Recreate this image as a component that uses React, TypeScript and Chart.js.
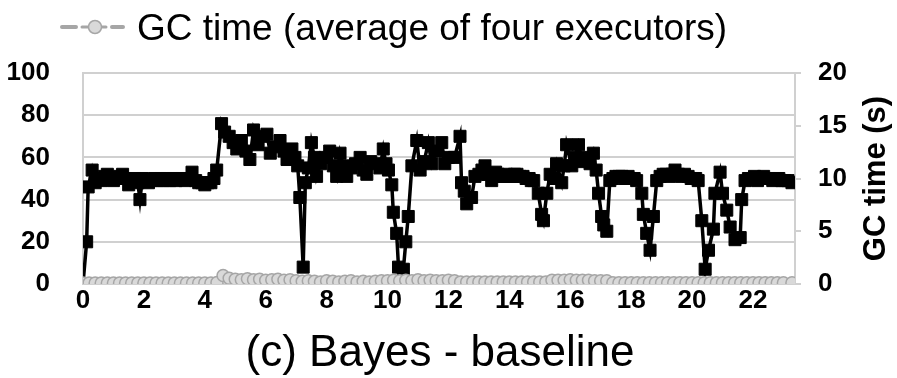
import React, { useEffect, useRef } from "react";
import { Chart, registerables } from "chart.js";

Chart.register(...registerables);

// ---- Data ----
// Black series (left axis, %), time in hours
const cpuHours = [
  0.0, 0.12, 0.17, 0.3,
  0.4, 0.5, 0.6, 0.7, 0.8, 0.9, 1.0, 1.1, 1.2, 1.3, 1.4, 1.5, 1.6, 1.7, 1.8, 1.87, 1.95,
  2.05, 2.15, 2.25, 2.35, 2.45, 2.55, 2.65, 2.75, 2.85, 2.95, 3.05, 3.15, 3.25, 3.35, 3.45, 3.58,
  3.7, 3.8, 3.9, 4.0, 4.1, 4.2, 4.3,
  4.39, 4.55, 4.65, 4.8, 4.93, 5.05, 5.2, 5.35, 5.48, 5.6, 5.75, 5.9,
  6.04, 6.15, 6.3, 6.47, 6.6, 6.7, 6.86, 6.96, 7.05, 7.12, 7.23, 7.3, 7.4, 7.5, 7.6, 7.67, 7.8, 7.95, 8.1, 8.22,
  8.33, 8.44, 8.55, 8.66, 8.8, 8.95, 9.1, 9.2, 9.32, 9.45, 9.6, 9.75, 9.86, 9.95, 10.03, 10.14, 10.19, 10.3, 10.36, 10.52,
  10.6, 10.68, 10.8, 10.96, 11.07, 11.2, 11.34, 11.45, 11.6, 11.78, 11.88, 12.0, 12.2, 12.38, 12.43, 12.52, 12.6, 12.76, 12.87,
  13.0, 13.1, 13.2, 13.3, 13.42, 13.55, 13.63, 13.72, 13.8, 13.9, 14.0, 14.08, 14.17, 14.25, 14.35, 14.45, 14.55, 14.65, 14.72, 14.8,
  14.95, 15.06, 15.12, 15.23, 15.34, 15.45, 15.55, 15.72,
  15.8, 15.88, 16.05, 16.15, 16.27, 16.4, 16.55, 16.65, 16.76, 16.85, 16.93, 17.03, 17.1, 17.2,
  17.3, 17.4, 17.5, 17.6, 17.7, 17.8, 17.9, 18.0, 18.1, 18.18,
  18.35, 18.4, 18.51, 18.62, 18.73,
  18.84, 18.95, 19.05, 19.15, 19.25, 19.35, 19.44, 19.55, 19.65, 19.75, 19.87, 19.97, 20.05, 20.12, 20.2,
  20.32, 20.43, 20.54, 20.7, 20.75, 20.92, 21.0, 21.14, 21.25, 21.41, 21.58, 21.63,
  21.74, 21.85, 21.95, 22.05, 22.15, 22.25, 22.35, 22.45, 22.55, 22.65, 22.75, 22.85, 22.95, 23.05, 23.15, 23.28,
];
const cpuPercent = [
  0, 20, 46, 54,
  48, 50, 49, 51, 52, 50, 49, 50, 51, 52, 50, 47, 49, 50, 48, 40, 50,
  49, 48, 49, 50, 49, 50, 49, 50, 49, 50, 49, 50, 50, 49, 50, 53,
  49, 48, 48, 47, 48, 48, 50,
  54, 76, 72, 70, 67, 64, 68, 63, 59, 73, 66, 70,
  71, 62, 65, 68, 63, 59, 64, 60, 56, 41, 8, 48, 55, 67, 60, 51, 57, 60, 63, 56,
  51, 62, 56, 51, 55, 57, 60, 54, 52, 58, 57, 55, 64, 57, 54, 47, 34, 24, 8, 7,
  20, 32, 56, 68, 54, 58, 67, 57, 63, 67, 57, 60, 60, 70, 48, 44, 38, 41, 51,
  52, 54, 56, 52, 49, 53, 52, 51, 51, 52, 51, 51, 52, 52, 51, 51, 50, 50, 49, 49,
  43, 33, 30, 43, 52, 50, 57, 48,
  56, 66, 56, 60, 66, 58, 60, 57, 62, 54, 43, 32, 28, 25,
  49, 50, 51, 51, 51, 50, 51, 50, 50, 49,
  43, 33, 24, 16, 32,
  49, 51, 52, 52, 51, 52, 54, 52, 51, 52, 51, 50, 50, 50, 49,
  30, 7, 16, 26, 43, 53, 43, 35, 27, 21, 22, 40,
  49, 50, 50, 51, 49, 50, 51, 50, 50, 49, 50, 50, 49, 49, 49, 48,
];

// GC time series (right axis, seconds), sampled every 0.2 h
const gcHours = [
  0.0, 0.2, 0.4, 0.6, 0.8, 1.0, 1.2, 1.4, 1.6, 1.8, 2.0, 2.2, 2.4, 2.6, 2.8, 3.0, 3.2, 3.4, 3.6, 3.8,
  4.0, 4.2, 4.4, 4.6, 4.8, 5.0, 5.2, 5.4, 5.6, 5.8, 6.0, 6.2, 6.4, 6.6, 6.8, 7.0, 7.2, 7.4, 7.6, 7.8,
  8.0, 8.2, 8.4, 8.6, 8.8, 9.0, 9.2, 9.4, 9.6, 9.8, 10.0, 10.2, 10.4, 10.6, 10.8, 11.0, 11.2, 11.4, 11.6, 11.8,
  12.0, 12.2, 12.4, 12.6, 12.8, 13.0, 13.2, 13.4, 13.6, 13.8, 14.0, 14.2, 14.4, 14.6, 14.8, 15.0, 15.2, 15.4, 15.6, 15.8,
  16.0, 16.2, 16.4, 16.6, 16.8, 17.0, 17.2, 17.4, 17.6, 17.8, 18.0, 18.2, 18.4, 18.6, 18.8, 19.0, 19.2, 19.4, 19.6, 19.8,
  20.0, 20.2, 20.4, 20.6, 20.8, 21.0, 21.2, 21.4, 21.6, 21.8, 22.0, 22.2, 22.4, 22.6, 22.8, 23.0, 23.28,
];
const gcSeconds = [
  0.1, 0.1, 0.1, 0.1, 0.1, 0.1, 0.1, 0.1, 0.1, 0.1, 0.1, 0.1, 0.1, 0.1, 0.1, 0.1, 0.1, 0.1, 0.1, 0.1,
  0.1, 0.1, 0.15, 0.8, 0.55, 0.45, 0.4, 0.5, 0.4, 0.45, 0.35, 0.4, 0.45, 0.35, 0.4, 0.3, 0.25, 0.3, 0.25, 0.2,
  0.3, 0.25, 0.2, 0.25, 0.3, 0.2, 0.25, 0.2, 0.25, 0.3, 0.3, 0.35, 0.3, 0.35, 0.3, 0.4, 0.3, 0.35, 0.3, 0.3,
  0.35, 0.3, 0.2, 0.2, 0.2, 0.2, 0.2, 0.2, 0.2, 0.2, 0.2, 0.2, 0.2, 0.2, 0.2, 0.2, 0.2, 0.35, 0.35, 0.35,
  0.4, 0.35, 0.35, 0.35, 0.3, 0.3, 0.3, 0.12, 0.12, 0.12, 0.12, 0.12, 0.12, 0.12, 0.12, 0.12, 0.12, 0.12, 0.12, 0.12,
  0.12, 0.12, 0.12, 0.12, 0.12, 0.12, 0.12, 0.12, 0.12, 0.12, 0.12, 0.12, 0.12, 0.12, 0.12, 0.12, 0.12,
];

const xTickValues = [0, 2, 4, 6, 8, 10, 12, 14, 16, 18, 20, 22];
const leftTickValues = [0, 20, 40, 60, 80, 100];
const rightTickValues = [0, 5, 10, 15, 20];
const legendText = "GC time (average of four executors)";
const bottomTitle = "(c) Bayes - baseline";
const rightAxisTitle = "GC time (s)";

const FONT = "'Liberation Sans', Arial, Helvetica, sans-serif";
const GRID = "#d0d0d0";
const GC_LINE = "#a6a6a6";
const GC_FILL = "#d9d9d9";

const decorPlugin = {
  id: "decor",
  afterDraw(chart: any) {
    const ctx = chart.ctx as CanvasRenderingContext2D;
    const area = chart.chartArea;
    ctx.save();
    // Legend symbol: dashed line with circle marker
    const ly = 27;
    ctx.strokeStyle = GC_LINE;
    ctx.lineWidth = 4;
    ctx.lineCap = "round";
    ctx.beginPath();
    ctx.moveTo(62, ly);
    ctx.lineTo(76, ly);
    ctx.moveTo(112, ly);
    ctx.lineTo(123, ly);
    ctx.stroke();
    ctx.beginPath();
    ctx.moveTo(82, ly);
    ctx.lineTo(106, ly);
    ctx.lineWidth = 3;
    ctx.stroke();
    ctx.beginPath();
    ctx.arc(95, ly, 6.5, 0, Math.PI * 2);
    ctx.fillStyle = GC_FILL;
    ctx.fill();
    ctx.lineWidth = 1.5;
    ctx.strokeStyle = GC_LINE;
    ctx.stroke();
    // Legend text
    ctx.fillStyle = "#000";
    ctx.font = `37px ${FONT}`;
    ctx.textBaseline = "alphabetic";
    ctx.textAlign = "left";
    ctx.fillText(legendText, 137, 40);
    // Bottom title
    ctx.font = `44px ${FONT}`;
    ctx.textAlign = "center";
    ctx.fillText(bottomTitle, 440, 366);
    // Right axis title (reads bottom to top)
    ctx.font = `bold 31px ${FONT}`;
    ctx.translate(876, (area.top + area.bottom) / 2);
    ctx.rotate(-Math.PI / 2);
    ctx.textAlign = "center";
    ctx.textBaseline = "middle";
    ctx.fillText(rightAxisTitle, 0, 0);
    ctx.restore();
  },
};

export default function App() {
  const ref = useRef<HTMLCanvasElement | null>(null);

  useEffect(() => {
    if (!ref.current) return;
    const cpuData = cpuHours.map((h, i) => ({ x: h, y: cpuPercent[i] }));
    const gcData = gcHours.map((h, i) => ({ x: h, y: gcSeconds[i] }));
    const chart = new Chart(ref.current, {
      type: "line",
      data: {
        datasets: [
          {
            label: legendText,
            data: gcData,
            yAxisID: "y1",
            borderColor: GC_LINE,
            borderWidth: 3,
            borderDash: [10, 5],
            pointStyle: "circle",
            pointRadius: 6,
            pointBackgroundColor: GC_FILL,
            pointBorderColor: GC_LINE,
            pointBorderWidth: 1.5,
            order: 0,
          },
          {
            label: "CPU",
            data: cpuData,
            yAxisID: "y",
            borderColor: "#000",
            borderWidth: 3.5,
            pointStyle: "rect",
            pointRadius: 8.5,
            pointBackgroundColor: "#000",
            pointBorderColor: "#000",
            pointBorderWidth: 1,
            order: 1,
          },
        ],
      },
      options: {
        animation: false,
        responsive: false,
        maintainAspectRatio: false,
        layout: { padding: { top: 73, left: 0, right: 0, bottom: 0 } },
        plugins: {
          legend: { display: false },
          tooltip: { enabled: false },
          title: { display: false },
        },
        scales: {
          x: {
            type: "linear",
            min: 0,
            max: 23.38,
            afterBuildTicks: (s: any) => {
              s.ticks = xTickValues.map((v) => ({ value: v }));
            },
            ticks: {
              color: "#000",
              font: { family: FONT, size: 26, weight: "bold" },
              padding: 1,
              maxRotation: 0,
              autoSkip: false,
            },
            grid: { display: false, drawTicks: false },
            border: { display: true, color: GRID, width: 2 },
            afterFit: (s: any) => {
              s.height = 94;
            },
          },
          y: {
            type: "linear",
            position: "left",
            min: 0,
            max: 100,
            afterBuildTicks: (s: any) => {
              s.ticks = leftTickValues.map((v) => ({ value: v }));
            },
            ticks: {
              color: "#000",
              font: { family: FONT, size: 26, weight: "bold" },
              padding: 33,
            },
            grid: { color: GRID, lineWidth: 2, drawTicks: false },
            border: { display: true, color: GRID, width: 2 },
            afterFit: (s: any) => {
              s.width = 83;
            },
          },
          y1: {
            type: "linear",
            position: "right",
            min: 0,
            max: 20,
            afterBuildTicks: (s: any) => {
              s.ticks = rightTickValues.map((v) => ({ value: v }));
            },
            ticks: {
              color: "#000",
              font: { family: FONT, size: 26, weight: "bold" },
              padding: 17,
            },
            grid: { drawOnChartArea: false, drawTicks: true, tickLength: 6, color: GRID, lineWidth: 2 },
            border: { display: true, color: GRID, width: 2 },
            afterFit: (s: any) => {
              s.width = 102;
            },
          },
        },
      },
      plugins: [decorPlugin],
    });
    return () => chart.destroy();
  }, []);

  return (
    <div style={{ position: "absolute", left: 0, top: 0, width: 897, height: 378, background: "#fff" }}>
      <canvas ref={ref} width={897} height={378} style={{ width: 897, height: 378, display: "block" }} />
    </div>
  );
}
